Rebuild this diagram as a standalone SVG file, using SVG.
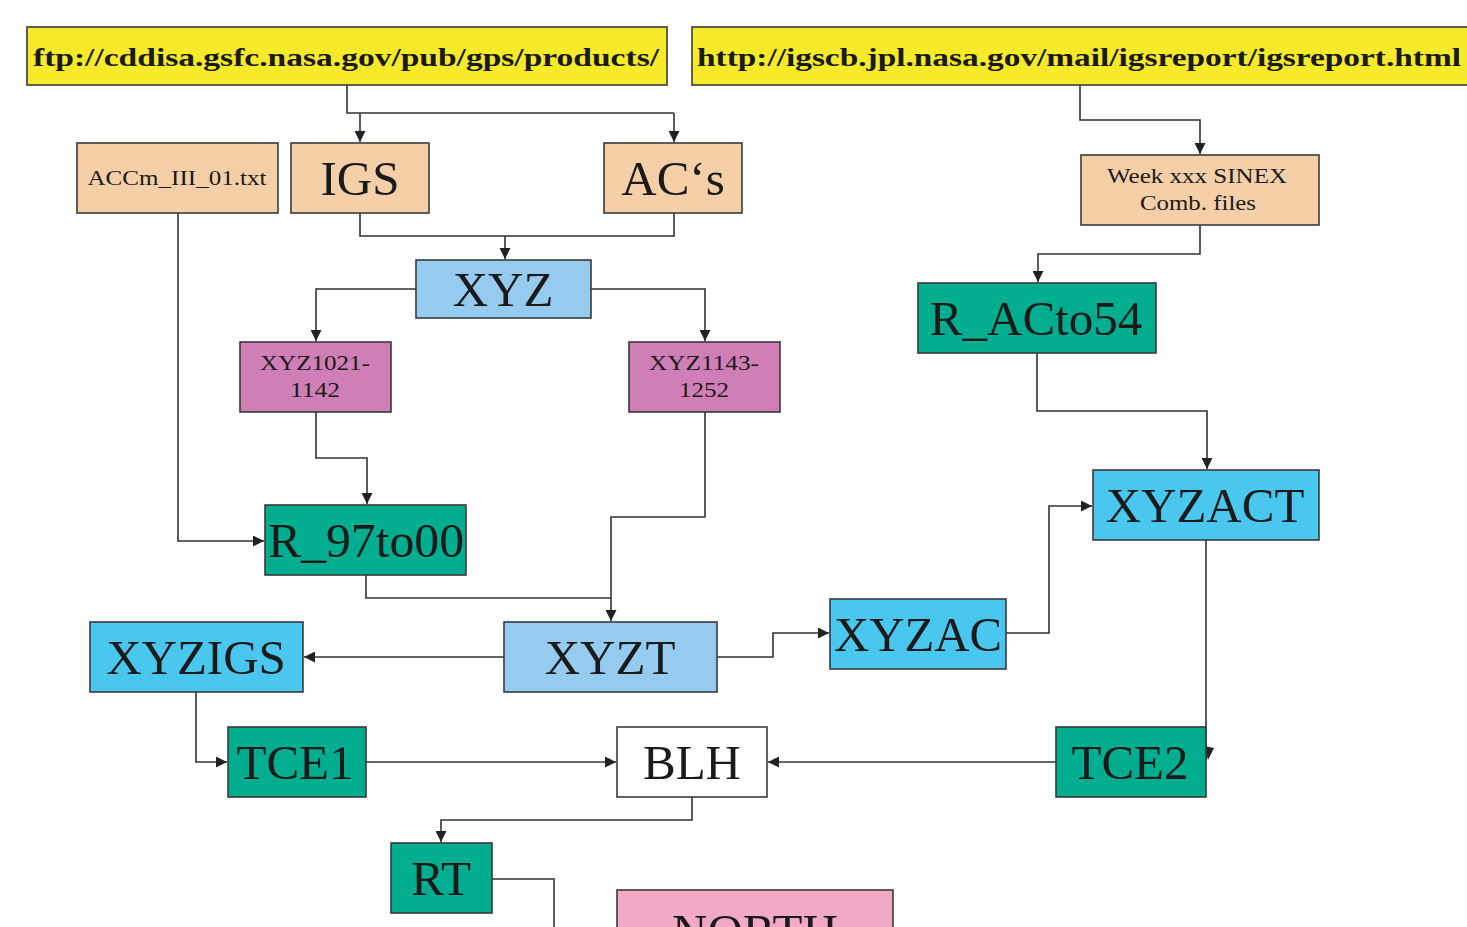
<svg xmlns="http://www.w3.org/2000/svg" width="1467" height="927" viewBox="0 0 1467 927">
<style>
.b{stroke:#3a3a3a;stroke-width:1.6}
.y{fill:#F6EA2B}.p{fill:#F5CFA8}.lb{fill:#95CBEE}.t{fill:#00AE8F}.m{fill:#CF7FB5}.c{fill:#4AC7EF}.w{fill:#fff}.pk{fill:#F2A9C5}
text{font-family:"Liberation Serif","Times New Roman",serif;fill:#1a1a1a;text-anchor:middle}
.L{font-size:49px}.S{font-size:22px}.U{font-size:26px;font-weight:bold;text-anchor:start}
.e{fill:none;stroke:#333;stroke-width:1.6}
</style>
<defs>
<marker id="a" viewBox="0 0 10 10" refX="10" refY="5" markerWidth="11" markerHeight="11" markerUnits="userSpaceOnUse" orient="auto"><path d="M0,0L10,5L0,10z" fill="#222"/></marker>
</defs>
<rect width="1467" height="927" fill="#fff"/>
<g id="connectors">
<path class="e" d="M347,85V113H674"/>
<path class="e" d="M360,113V142" marker-end="url(#a)"/>
<path class="e" d="M674,113V142" marker-end="url(#a)"/>
<path class="e" d="M360,213V236H674V213"/>
<path class="e" d="M505,236V259" marker-end="url(#a)"/>
<path class="e" d="M416,289H316V341" marker-end="url(#a)"/>
<path class="e" d="M591,289H705V341" marker-end="url(#a)"/>
<path class="e" d="M1080,85V120H1200V154" marker-end="url(#a)"/>
<path class="e" d="M1200,225V254H1038V282" marker-end="url(#a)"/>
<path class="e" d="M1037,353V411H1207V469" marker-end="url(#a)"/>
<path class="e" d="M178,213V541H264" marker-end="url(#a)"/>
<path class="e" d="M316,412V458H367V504" marker-end="url(#a)"/>
<path class="e" d="M705,412V517H611V621" marker-end="url(#a)"/>
<path class="e" d="M366,575V598H611"/>
<path class="e" d="M504,657H304" marker-end="url(#a)"/>
<path class="e" d="M717,657H773V633H829" marker-end="url(#a)"/>
<path class="e" d="M1006,633H1049V506H1092" marker-end="url(#a)"/>
<path class="e" d="M1206,540V760"/>
<path d="M1204,746L1214,748L1208,760z" fill="#222"/>
<path class="e" d="M1056,762H768" marker-end="url(#a)"/>
<path class="e" d="M196,692V762H227" marker-end="url(#a)"/>
<path class="e" d="M366,762H616" marker-end="url(#a)"/>
<path class="e" d="M692,797V820H441V842" marker-end="url(#a)"/>
<path class="e" d="M492,879H554V927"/>
</g>
<g id="ftp"><rect class="b y" x="27" y="27" width="640" height="58"/><text class="U" x="33" y="66" textLength="626" lengthAdjust="spacingAndGlyphs">ftp://cddisa.gsfc.nasa.gov/pub/gps/products/</text></g>
<g id="http"><rect class="b y" x="692" y="27" width="785" height="58"/><text class="U" x="697" y="66" textLength="764" lengthAdjust="spacingAndGlyphs">http://igscb.jpl.nasa.gov/mail/igsreport/igsreport.html</text></g>
<g id="accm"><rect class="b p" x="77" y="143" width="201" height="70"/><text class="S" x="177" y="185" textLength="179" lengthAdjust="spacingAndGlyphs">ACCm_III_01.txt</text></g>
<g id="igs"><rect class="b p" x="291" y="143" width="138" height="70"/><text class="L" x="360" y="195">IGS</text></g>
<g id="acs"><rect class="b p" x="604" y="143" width="138" height="70"/><text class="L" x="673" y="195">AC‘s</text></g>
<g id="week"><rect class="b p" x="1081" y="155" width="238" height="70"/><text class="S" x="1197" y="183" textLength="180" lengthAdjust="spacingAndGlyphs">Week xxx SINEX</text><text class="S" x="1198" y="210" textLength="116" lengthAdjust="spacingAndGlyphs">Comb. files</text></g>
<g id="xyz"><rect class="b lb" x="416" y="260" width="175" height="58"/><text class="L" x="503" y="306">XYZ</text></g>
<g id="racto54"><rect class="b t" x="918" y="283" width="238" height="70"/><text class="L" x="1036" y="335">R_ACto54</text></g>
<g id="xyz1021"><rect class="b m" x="240" y="342" width="151" height="70"/><text class="S" x="315" y="370" textLength="110" lengthAdjust="spacingAndGlyphs">XYZ1021-</text><text class="S" x="315" y="397" textLength="50" lengthAdjust="spacingAndGlyphs">1142</text></g>
<g id="xyz1143"><rect class="b m" x="629" y="342" width="151" height="70"/><text class="S" x="704" y="370" textLength="110" lengthAdjust="spacingAndGlyphs">XYZ1143-</text><text class="S" x="704" y="397" textLength="50" lengthAdjust="spacingAndGlyphs">1252</text></g>
<g id="xyzact"><rect class="b c" x="1093" y="470" width="226" height="70"/><text class="L" x="1205" y="522">XYZACT</text></g>
<g id="r97to00"><rect class="b t" x="265" y="505" width="201" height="70"/><text class="L" x="366" y="557" textLength="196" lengthAdjust="spacingAndGlyphs">R_97to00</text></g>
<g id="xyzigs"><rect class="b c" x="90" y="622" width="213" height="70"/><text class="L" x="196" y="674">XYZIGS</text></g>
<g id="xyzt"><rect class="b lb" x="504" y="622" width="213" height="70"/><text class="L" x="610" y="674">XYZT</text></g>
<g id="xyzac"><rect class="b c" x="830" y="599" width="176" height="70"/><text class="L" x="918" y="651" textLength="168" lengthAdjust="spacingAndGlyphs">XYZAC</text></g>
<g id="tce1"><rect class="b t" x="228" y="727" width="138" height="70"/><text class="L" x="295" y="779">TCE1</text></g>
<g id="blh"><rect class="b w" x="617" y="727" width="150" height="70"/><text class="L" x="692" y="779">BLH</text></g>
<g id="tce2"><rect class="b t" x="1056" y="727" width="150" height="70"/><text class="L" x="1130" y="779">TCE2</text></g>
<g id="rt"><rect class="b t" x="391" y="843" width="101" height="70"/><text class="L" x="441" y="895">RT</text></g>
<g id="north"><rect class="b pk" x="617" y="890" width="276" height="70"/><text class="L" x="755" y="948">NORTH</text></g>
</svg>
